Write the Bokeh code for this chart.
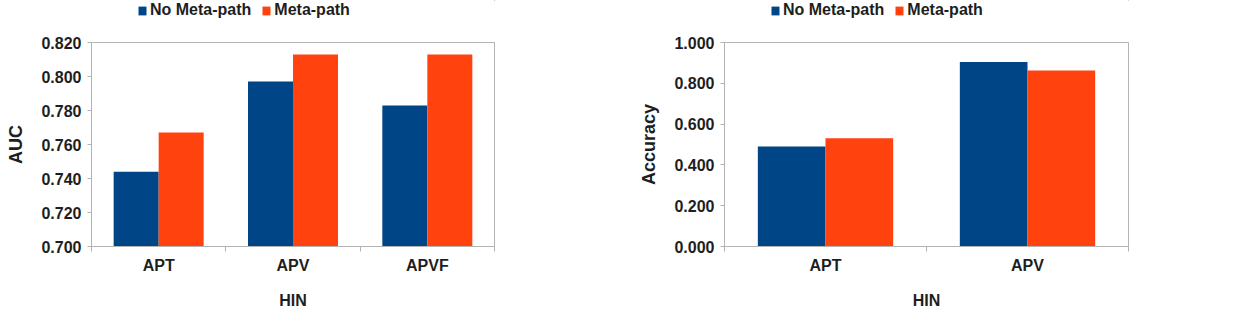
from bokeh.plotting import figure
from bokeh.layouts import row, column
from bokeh.models import (Range1d, FixedTicker, NumeralTickFormatter, Legend, LegendItem,
                          ColumnDataSource)
from bokeh.transform import dodge
from bokeh.embed import file_html
from bokeh.resources import INLINE

# ---- data ----
auc_categories = ["APT", "APV", "APVF"]
auc_no_meta = [0.744, 0.797, 0.783]
auc_meta = [0.767, 0.813, 0.813]
auc_ticks = [0.70, 0.72, 0.74, 0.76, 0.78, 0.80, 0.82]

acc_categories = ["APT", "APV"]
acc_no_meta = [0.490, 0.905]
acc_meta = [0.531, 0.863]
acc_ticks = [0.0, 0.2, 0.4, 0.6, 0.8, 1.0]

series_names = ["No Meta-path", "Meta-path"]
colors = ["#004586", "#ff420e"]

FONT = "Liberation Sans"
TXT = "#1e1e1e"
GRAY = "#b3b3b3"

LEG_H = 32
TOP_PAD = 10
BW = 0.335


def add_bars(p, src, bottom):
    r1 = p.vbar(x=dodge("x", -BW / 2, range=p.x_range), top="a", bottom=bottom, width=BW,
                source=src, fill_color=colors[0], line_color=None)
    r2 = p.vbar(x=dodge("x", BW / 2, range=p.x_range), top="b", bottom=bottom, width=BW,
                source=src, fill_color=colors[1], line_color=None)
    return [r1, r2]


def make_legend_fig(width, src, bottom):
    # legend strip above the chart; its bars fall far outside its own ranges
    lf = figure(width=width, height=LEG_H, output_backend="svg", toolbar_location=None,
                x_range=Range1d(-60, -50), y_range=Range1d(-60, -50),
                min_border_left=0, min_border_right=0, min_border_top=0,
                min_border_bottom=0)
    lf.axis.visible = False
    lf.grid.visible = False
    lf.outline_line_color = None
    lf.background_fill_color = "white"
    lf.border_fill_color = "white"
    rs = add_bars(lf, src, bottom)
    legend = Legend(items=[LegendItem(label=nm, renderers=[r]) for nm, r in zip(series_names, rs)],
                    orientation="horizontal", location=(46, LEG_H - 20),
                    glyph_width=10, glyph_height=11, label_height=20,
                    label_standoff=3, spacing=10, padding=0, margin=0,
                    border_line_color=None, background_fill_alpha=0,
                    label_text_font=FONT, label_text_font_style="bold",
                    label_text_font_size="16px", label_text_color=TXT)
    lf.add_layout(legend, "center")
    return lf


def make_chart(cats, s1, s2, yticks, ylabel, width, bl, br):
    n = len(cats)
    centers = [i + 0.5 for i in range(n)]
    src = ColumnDataSource(dict(x=centers, a=s1, b=s2))
    p = figure(width=width, height=334 - LEG_H, output_backend="svg", toolbar_location=None,
               x_range=Range1d(0, n), y_range=Range1d(yticks[0], yticks[-1]),
               min_border_left=bl, min_border_right=br, min_border_top=TOP_PAD,
               min_border_bottom=88)
    p.background_fill_color = "white"
    p.border_fill_color = "white"
    p.outline_line_color = GRAY
    p.grid.visible = False

    add_bars(p, src, yticks[0])

    # x axis
    xa = p.xaxis[0]
    xa.ticker = FixedTicker(ticks=centers, minor_ticks=list(range(n + 1)))
    xa.major_label_overrides = {c: lab for c, lab in zip(centers, cats)}
    xa.major_tick_line_color = None
    xa.major_tick_out = 0
    xa.major_tick_in = 0
    xa.minor_tick_line_color = GRAY
    xa.minor_tick_out = 5
    xa.minor_tick_in = 0
    xa.axis_line_color = GRAY
    xa.major_label_standoff = 5
    xa.major_label_text_font = FONT
    xa.major_label_text_font_style = "bold"
    xa.major_label_text_font_size = "16px"
    xa.major_label_text_color = TXT
    xa.axis_label = "HIN"
    xa.axis_label_standoff = 15
    xa.axis_label_text_font = FONT
    xa.axis_label_text_font_style = "bold"
    xa.axis_label_text_font_size = "16px"
    xa.axis_label_text_color = TXT

    # y axis
    ya = p.yaxis[0]
    ya.ticker = FixedTicker(ticks=yticks, minor_ticks=[])
    ya.formatter = NumeralTickFormatter(format="0.000")
    ya.major_tick_line_color = GRAY
    ya.major_tick_out = 4
    ya.major_tick_in = 0
    ya.minor_tick_line_color = None
    ya.axis_line_color = GRAY
    ya.major_label_standoff = 6
    ya.major_label_text_font = FONT
    ya.major_label_text_font_style = "bold"
    ya.major_label_text_font_size = "16px"
    ya.major_label_text_color = TXT
    ya.axis_label = ylabel
    ya.axis_label_standoff = 12
    ya.axis_label_text_font = FONT
    ya.axis_label_text_font_style = "bold"
    ya.axis_label_text_font_size = "18px"
    ya.axis_label_text_color = TXT
    return p, src


p1, src1 = make_chart(auc_categories, auc_no_meta, auc_meta, auc_ticks, "AUC", 620, 91, 126)
p2, src2 = make_chart(acc_categories, acc_no_meta, acc_meta, acc_ticks, "Accuracy", 617, 104, 109)
l1 = make_legend_fig(620, src1, auc_ticks[0])
l2 = make_legend_fig(617, src2, acc_ticks[0])

layout = row(column(l1, p1, spacing=0), column(l2, p2, spacing=0), spacing=0)
open("out.html", "w").write(file_html(layout, INLINE))
